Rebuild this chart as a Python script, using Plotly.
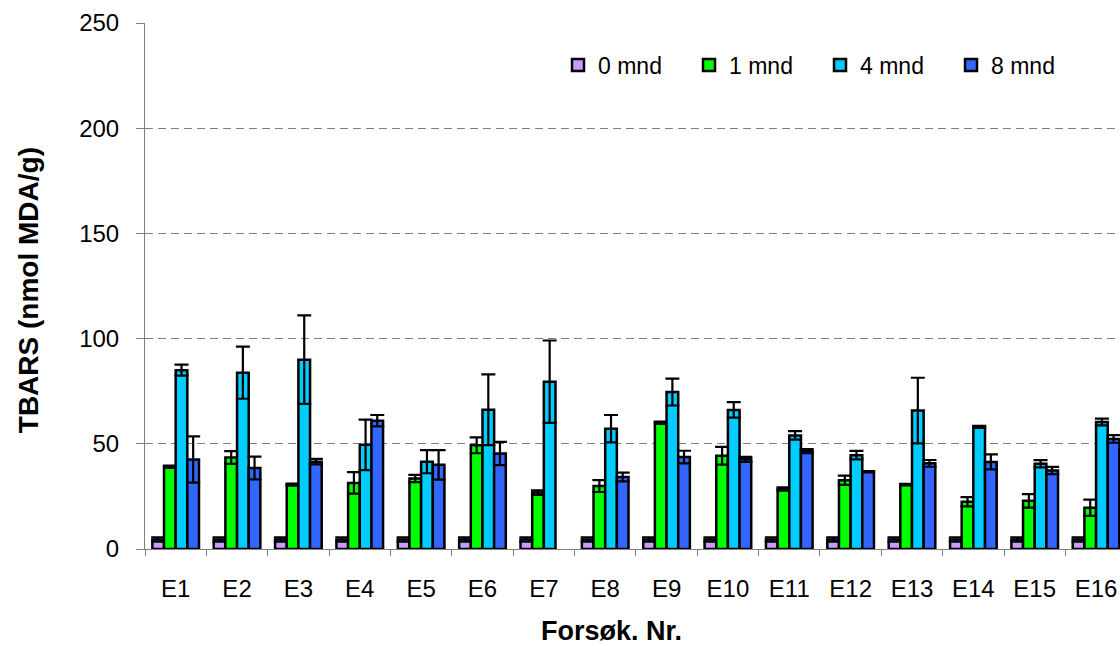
import plotly.graph_objects as go

# Trial numbers
trials = [f"E{i}" for i in range(1, 17)]

# TBARS means (nmol MDA/g) and standard deviations per storage time
m0 = [4.5, 4.5, 4.5, 4.5, 4.5, 4.5, 4.5, 4.5, 4.5, 4.5, 4.5, 4.5, 4.5, 4.5, 4.5, 4.5]
e0 = [1.0, 1.0, 1.0, 1.0, 1.0, 1.0, 1.0, 1.0, 1.0, 1.0, 1.0, 1.0, 1.0, 1.0, 1.0, 1.0]

m1 = [39.1, 43.5, 30.6, 31.4, 33.5, 49.3, 26.8, 29.9, 60.0, 44.3, 28.5, 32.7, 30.6, 22.5, 22.9, 19.6]
e1 = [0.5, 3.0, 0.5, 5.1, 1.7, 3.8, 1.1, 2.8, 0.5, 4.2, 0.8, 2.2, 0.4, 2.2, 3.2, 3.9]

m4 = [85.0, 83.8, 90.0, 49.5, 41.5, 66.2, 79.5, 57.2, 74.6, 66.1, 54.0, 44.6, 65.8, 58.0, 40.5, 60.4]
e4 = [2.6, 12.4, 21.0, 12.0, 5.5, 16.8, 19.6, 6.5, 6.4, 3.7, 2.0, 2.0, 15.6, 0.5, 1.7, 1.6]

m8 = [42.5, 38.5, 41.5, 61.0, 40.0, 45.4, None, 34.2, 43.7, 42.6, 46.5, 36.7, 40.7, 41.4, 37.3, 52.3]
e8 = [11.0, 5.4, 1.3, 2.7, 7.0, 5.5, None, 2.1, 3.0, 1.2, 1.0, 0.3, 1.6, 3.6, 1.7, 1.8]

series = [
    ("0 mnd", m0, e0, "#CC99FF"),
    ("1 mnd", m1, e1, "#00FF00"),
    ("4 mnd", m4, e4, "#00CCFF"),
    ("8 mnd", m8, e8, "#3366FF"),
]

FONT = "Arial, Liberation Sans, sans-serif"
GRID = "#7f7f7f"

fig = go.Figure()
for name, vals, errs, col in series:
    fig.add_trace(go.Bar(
        name=name, x=trials, y=vals,
        marker=dict(color=col, line=dict(color="black", width=2.5)),
        error_y=dict(type="data", array=errs, visible=True,
                     color="black", thickness=2.2, width=7),
    ))

fig.update_layout(
    width=1120, height=646,
    margin=dict(l=145, r=0, t=23, b=97),
    paper_bgcolor="white", plot_bgcolor="white",
    barmode="group", bargap=0.24, bargroupgap=0,
    font=dict(family=FONT, size=24, color="black"),
    showlegend=True,
    legend=dict(
        orientation="h", x=0.4236, y=0.92, xanchor="left", yanchor="middle",
        font=dict(size=23), bgcolor="rgba(0,0,0,0)",
        entrywidth=86, entrywidthmode="pixels", traceorder="normal",
    ),
    xaxis=dict(
        type="category", range=[-0.5, 15.39],
        showline=True, linecolor=GRID, linewidth=1,
        ticks="outside", tickson="boundaries", ticklen=6, tickcolor=GRID,
        ticklabelstandoff=18, showgrid=False,
        tickfont=dict(size=24),
    ),
    yaxis=dict(
        range=[0, 250], dtick=50, tick0=0,
        showline=True, linecolor=GRID, linewidth=1,
        ticks="outside", ticklen=8, tickcolor=GRID,
        ticklabelstandoff=12,
        showgrid=True, gridcolor=GRID, gridwidth=1, griddash="8px,5px",
        zeroline=False, tickfont=dict(size=24),
    ),
    yaxis2=dict(
        overlaying="y", matches="y", anchor="x", side="left",
        range=[0, 250], dtick=50, tick0=0,
        ticks="inside", ticklen=8, tickcolor=GRID,
        showticklabels=False, showgrid=False, showline=False, zeroline=False,
    ),
    shapes=[
        # white panel behind the legend hides the top gridline there
        dict(type="rect", xref="paper", yref="paper",
             x0=0.4174, x1=1.0, y0=0.96, y1=1.02,
             fillcolor="white", line=dict(width=0), layer="above"),
    ],
    annotations=[
        dict(text="<b>TBARS (nmol MDA/g)</b>", xref="paper", yref="paper",
             x=-0.12, y=0.492, textangle=-90, showarrow=False,
             font=dict(size=28), xanchor="center", yanchor="middle"),
        dict(text="<b>Forsøk. Nr.</b>", xref="paper", yref="paper",
             x=0.478, y=-0.156, showarrow=False,
             font=dict(size=27), xanchor="center", yanchor="middle"),
    ],
)

fig.write_html("out.html")
